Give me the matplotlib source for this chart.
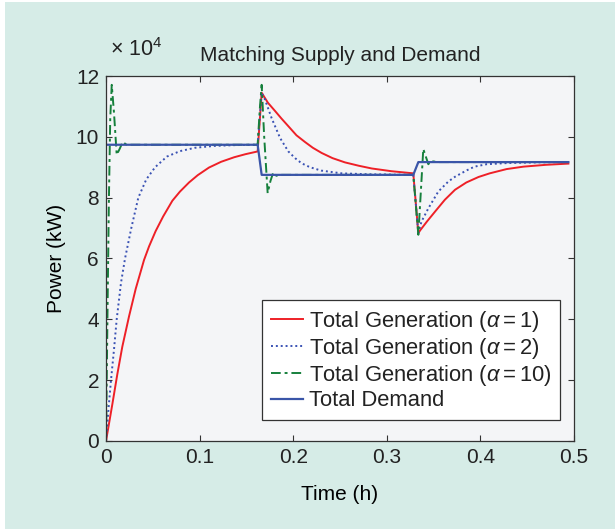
import matplotlib
matplotlib.use("Agg")
import matplotlib.pyplot as plt
from matplotlib.patches import Rectangle
from matplotlib.ticker import FuncFormatter

# Potência em kW, tempo em horas
T_DEMAND = [0.0, 0.162, 0.1663, 0.3283, 0.3337, 0.494]
P_DEMAND = [97400, 97400, 87500, 87500, 91700, 91700]

T_A1 = [0.0, 0.0067, 0.0121, 0.0174, 0.0246, 0.0317, 0.0406, 0.046, 0.053, 0.061,
        0.0709, 0.079, 0.0887, 0.098, 0.110, 0.123, 0.137, 0.149, 0.162,
        0.1663, 0.173, 0.1806, 0.1875, 0.1948, 0.2035, 0.2126, 0.221, 0.2304,
        0.242, 0.2553, 0.27, 0.2839, 0.305, 0.3283,
        0.3337, 0.3355, 0.343, 0.3515, 0.362, 0.3729, 0.385, 0.398, 0.410,
        0.428, 0.446, 0.47, 0.494]
P_A1 = [0, 12000, 22000, 31000, 41000, 50000, 59500, 64000, 69000, 73800,
        79000, 82000, 85000, 87400, 89900, 91800, 93300, 94300, 95200,
        114500, 111200, 108500, 106000, 103500, 100500, 98300, 96400, 94700,
        93000, 91600, 90500, 89600, 88700, 88000,
        68300, 69200, 72200, 75400, 79300, 82600, 85000, 86800, 88000,
        89400, 90200, 90800, 91200]

T_A2 = [0.0, 0.0025, 0.0053, 0.0085, 0.0114, 0.016, 0.0203, 0.027, 0.0345, 0.043,
        0.0524, 0.065, 0.079, 0.095, 0.115, 0.14, 0.162,
        0.1663, 0.1699, 0.177, 0.186, 0.1948, 0.202, 0.209, 0.218, 0.230, 0.2518,
        0.28, 0.3283,
        0.3337, 0.337, 0.3444, 0.355, 0.3657, 0.373, 0.3855, 0.3937, 0.4067,
        0.43, 0.46, 0.494]
P_A2 = [0, 10000, 20000, 30000, 40000, 52000, 60000, 70000, 80000, 86000,
        90000, 93500, 95300, 96400, 97000, 97300, 97400,
        114500, 112200, 106100, 99600, 95200, 93000, 91300, 90000, 88900, 88000,
        87700, 87500,
        68300, 72100, 76500, 82000, 85300, 86900, 89000, 90200, 91000,
        91400, 91600, 91700]

T_A10 = [0.0, 0.0015, 0.003, 0.0045, 0.0061, 0.0085, 0.0114, 0.0145, 0.0178, 0.022,
         0.162, 0.1645, 0.1663, 0.169, 0.1727, 0.1757, 0.1787, 0.182, 0.186,
         0.3283, 0.3337, 0.339, 0.3444, 0.347, 0.350, 0.355, 0.494]
P_A10 = [0, 40000, 78000, 106000, 117100, 108000, 94100, 96000, 98300, 97400,
         97400, 110000, 117100, 100000, 81500, 85500, 88300, 87200, 87500,
         87500, 67800, 96000, 91000, 92000, 91900, 91700, 91700]

LABELS = [r"Total Generation ($\alpha = 1$)",
          r"Total Generation ($\alpha = 2$)",
          r"Total Generation ($\alpha = 10$)",
          "Total Demand"]

BG = "#d6ece7"
FACE = "#f4f5f7"

plt.rcParams.update({
    "font.family": ["Liberation Sans", "DejaVu Sans"],
    "font.size": 15,
    "mathtext.fontset": "custom",
    "mathtext.rm": "Liberation Sans",
    "mathtext.it": "Liberation Sans:italic",
    "xtick.direction": "in",
    "ytick.direction": "in",
    "xtick.top": True,
    "ytick.right": True,
    "text.color": "#222222",
})

fig = plt.figure(figsize=(6.15, 5.29), dpi=100, facecolor="white")
fig.patches.append(Rectangle((5 / 615, 0), 1, 1 - 2 / 529, transform=fig.transFigure,
                             facecolor=BG, edgecolor="none", zorder=-10))
ax = fig.add_axes([0.1724, 0.1664, 0.7609, 0.6899])
ax.set_facecolor(FACE)

ax.plot(T_A1, P_A1, color="#ee2027", lw=1.4, label=LABELS[0])
ax.plot(T_A2, P_A2, color="#3a52b4", lw=1.4, linestyle=(0, (1, 1.5)), label=LABELS[1])
ax.plot(T_A10, P_A10, color="#16803c", lw=1.4, linestyle=(0, (5, 2, 1.5, 2)), label=LABELS[2])
ax.plot(T_DEMAND, P_DEMAND, color="#3a55a8", lw=1.6, label=LABELS[3])

ax.set_xlim(0, 0.5)
ax.set_ylim(0, 120000)
ax.set_xticks([0, 0.1, 0.2, 0.3, 0.4, 0.5])
ax.set_xticklabels(["0", "0.1", "0.2", "0.3", "0.4", "0.5"])
ax.set_yticks(range(0, 120001, 20000))
ax.yaxis.set_major_formatter(FuncFormatter(lambda v, pos: f"{v / 1e4:.0f}"))
ax.tick_params(length=4.5, width=0.8, colors="#333333", labelcolor="#222222", pad=5)
for s in ax.spines.values():
    s.set_color("#333333")
    s.set_linewidth(0.9)

ax.set_xlabel("Time (h)", labelpad=13)
ax.set_ylabel("Power (kW)", labelpad=7)
ax.set_title("Matching Supply and Demand", fontsize=15, pad=11)
fig.text(110 / 615, 1 - 50 / 529, r"× 10$^4$", ha="left", va="center", fontsize=15.5)

leg = ax.legend(loc="lower right", bbox_to_anchor=(0.970, 0.0575), borderaxespad=0,
                fancybox=False, framealpha=1, edgecolor="#333333",
                handlelength=1.45, handletextpad=0.28, labelspacing=0.1,
                borderpad=0.4, fontsize=15.8)
leg.get_frame().set_linewidth(0.9)

fig.savefig("out.png", dpi=100, facecolor=fig.get_facecolor())
